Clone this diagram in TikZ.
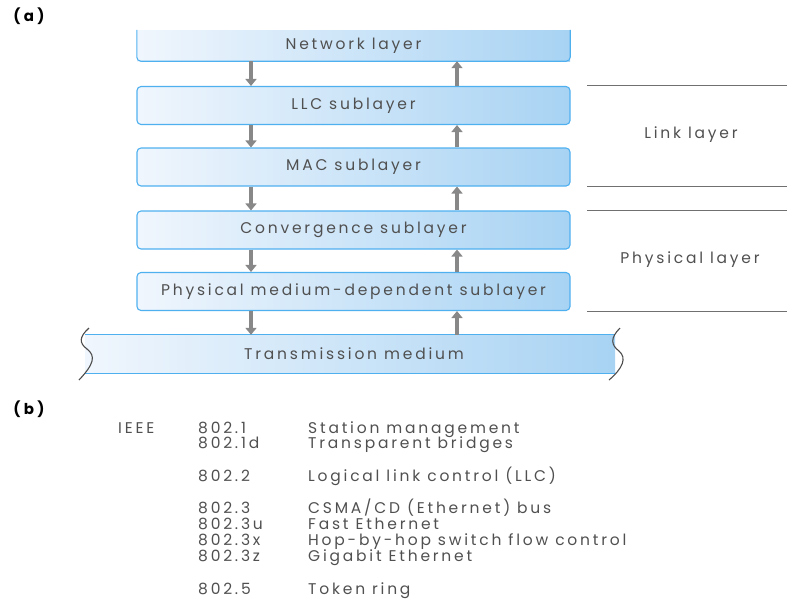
\documentclass[tikz,border=0pt]{standalone}
\usepackage{fontspec}
\setmainfont{Poppins}
\newfontfamily\widefont{Poppins}[LetterSpace=18]
\newfontfamily\headfont{Poppins}[LetterSpace=22]
\usetikzlibrary{arrows.meta}

\definecolor{boxedge}{HTML}{4FB0F0}
\definecolor{boxlight}{HTML}{F0F6FD}
\definecolor{boxmid}{HTML}{D2E9FB}
\definecolor{boxdark}{HTML}{A8D3F3}
\definecolor{txt}{HTML}{505050}
\definecolor{arrowgray}{HTML}{888888}
\definecolor{rulegray}{HTML}{707070}

\begin{document}
\begin{tikzpicture}[x=1pt,y=-1pt,
  labelfont/.style={font=\widefont\fontsize{15.5}{18}\selectfont, text=txt},
  layerbox/.style={labelfont, draw=boxedge, line width=1.1pt, rounded corners=4pt,
    left color=boxlight, middle color=boxmid, right color=boxdark,
    minimum width=433pt, minimum height=38pt, inner sep=0pt},
  layerfill/.style={labelfont, left color=boxlight, middle color=boxmid, right color=boxdark,
    inner sep=0pt},
  edgeline/.style={draw=boxedge, line width=1.1pt},
  flow/.style={draw=arrowgray, line width=4pt,
    -{Triangle[width=11pt,length=7pt]}, shorten >=0pt},
  sepline/.style={draw=rulegray, line width=1pt},
  wave/.style={draw=black!70, line width=1.1pt},
  partlabel/.style={font=\headfont\fontsize{15}{17}\bfseries\selectfont, text=black},
  entry/.style={font=\widefont\fontsize{15.5}{18}\selectfont, text=txt, anchor=base west, inner sep=0pt},
]
\useasboundingbox (0,0) rectangle (787,598);

% part labels
\node[partlabel] (pa) at (29,16) {(a)};
\node[partlabel] (pb) at (29,409) {(b)};

% x positions of the downward and upward flows
\coordinate (dnx) at (251,0);
\coordinate (upx) at (457,0);

% protocol stack
\node[layerfill, minimum width=433pt, minimum height=31pt] (net) at (353.5,45.5) {Network layer};
\draw[edgeline, rounded corners=4pt] (net.north west) -- (net.south west) -- (net.south east) -- (net.north east);

\node[layerbox] (llc)  at (353.5,105.5) {LLC sublayer};
\node[layerbox] (mac)  at (353.5,167)   {MAC sublayer};
\node[layerbox] (conv) at (353.5,230)   {Convergence sublayer};
\node[layerbox] (pmd)  at (353.5,291.5) {Physical medium-dependent sublayer};

% transmission medium
\node[layerfill, minimum width=530pt, minimum height=38pt] (tm) at (350,354) {\hspace*{8pt}Transmission medium};
\draw[edgeline] (tm.north west) -- (tm.north east);
\draw[edgeline] (tm.south west) -- (tm.south east);
\draw[wave] (89,328) .. controls (79,337) and (79,343) .. (87,349)
            .. controls (96,356) and (94,364) .. (79,380);
\draw[wave] (620,328) .. controls (610,338) and (611,345) .. (619,351)
            .. controls (627,358) and (623,368) .. (609,380);

% downward flows
\draw[flow] (net.south -| dnx) -- (llc.north -| dnx);
\draw[flow] (llc.south -| dnx) -- (mac.north -| dnx);
\draw[flow] (mac.south -| dnx) -- (conv.north -| dnx);
\draw[flow] (conv.south -| dnx) -- (pmd.north -| dnx);
\draw[flow] (pmd.south -| dnx) -- (tm.north -| dnx);

% upward flows
\draw[flow] (llc.north -| upx) -- (net.south -| upx);
\draw[flow] (mac.north -| upx) -- (llc.south -| upx);
\draw[flow] (conv.north -| upx) -- (mac.south -| upx);
\draw[flow] (pmd.north -| upx) -- (conv.south -| upx);
\draw[flow] (tm.north -| upx) -- (pmd.south -| upx);

% layer brackets on the right
\coordinate (rl) at (587,0);
\coordinate (rr) at (787,0);
\draw[sepline] (llc.north -| rl) -- (llc.north -| rr);
\draw[sepline] (mac.south -| rl) -- (mac.south -| rr);
\draw[sepline] (conv.north -| rl) -- (conv.north -| rr);
\draw[sepline] (pmd.south -| rl) -- (pmd.south -| rr);
\node[labelfont] (link) at (691,135) {Link layer};
\node[labelfont] (phys) at (690,260) {Physical layer};

% IEEE 802 standards
\node[entry] (ieee) at (118,433) {IEEE};
\foreach \n/\y/\std/\desc in {
  a/433/802.1/{Station management},
  b/448/802.1d/{Transparent bridges},
  c/481.5/802.2/{Logical link control (LLC)},
  d/513/802.3/{CSMA/CD (Ethernet) bus},
  e/529/802.3u/{Fast Ethernet},
  f/545.5/802.3x/{Hop-by-hop switch flow control},
  g/561.5/802.3z/{Gigabit Ethernet},
  h/594/802.5/{Token ring}}{
  \node[entry] (std\n) at (198,\y) {\std};
  \node[entry] (desc\n) at (308,\y) {\desc};
}
\end{tikzpicture}
\end{document}
